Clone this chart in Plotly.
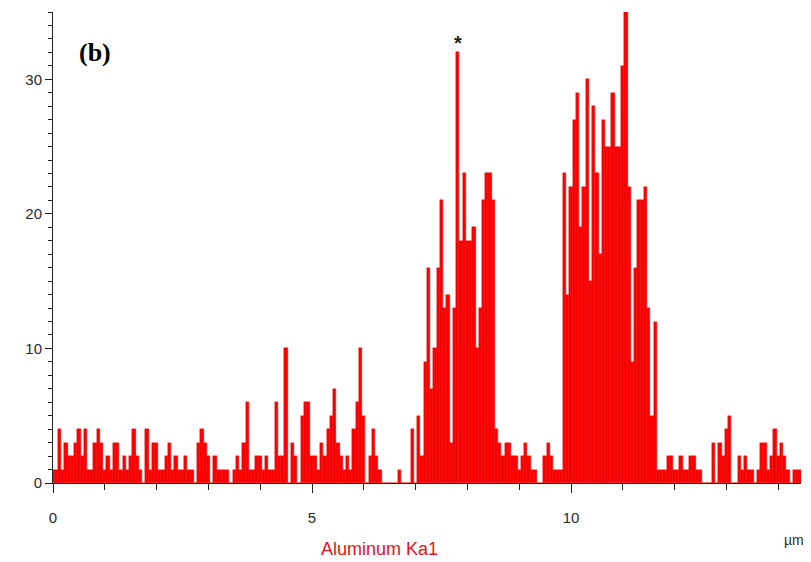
import plotly.graph_objects as go

# ---- data ----
BIN_UM = 0.0625  # width of one scan step, µm

counts_0_19 = [1, 1, 4, 1, 3, 2, 2, 3, 4, 2, 4, 1, 1, 3, 4, 3, 1, 2, 1, 3]
counts_20_42 = [3, 1, 2, 1, 2, 4, 2, 1, 0, 4, 1, 3, 3, 1, 1, 2, 3, 1, 2, 1, 1, 2, 1]
counts_43_63 = [1, 0, 3, 4, 3, 2, 0, 2, 1, 1, 1, 1, 0, 1, 2, 1, 3, 6, 1, 1, 2]
counts_64_84 = [2, 1, 2, 1, 1, 6, 2, 2, 10, 0, 3, 2, 0, 5, 6, 6, 2, 2, 1, 3, 2]
counts_85_101 = [4, 5, 7, 3, 2, 1, 2, 1, 4, 6, 10, 5, 0, 2, 4, 2, 1]
counts_102_113 = [0, 0, 0, 0, 0, 1, 0, 0, 0, 4, 0, 5]
counts_114_126 = [2, 9, 16, 7, 10, 16, 21, 13, 14, 3, 13, 32, 18]
counts_127_147 = [23, 18, 18, 19, 10, 13, 21, 23, 23, 21, 4, 3, 2, 3, 3, 2, 2, 1, 2, 3, 2]
counts_148_157 = [1, 1, 0, 0, 2, 3, 2, 1, 1, 1]
counts_158_167 = [23, 14, 22, 27, 29, 19, 22, 30, 15, 28]
counts_168_187 = [23, 17, 27, 25, 25, 29, 25, 25, 31, 35, 22, 9, 16, 21, 21, 22, 13, 5, 12, 1]
counts_188_231 = [1, 1, 2, 2, 1, 1, 2, 1, 1, 2, 2, 1, 1, 0, 0, 0, 3, 0, 3, 2,
                  4, 5, 0, 0, 2, 1, 2, 1, 1, 0, 1, 3, 3, 1, 2, 4, 2, 3, 2, 1,
                  0, 1, 1, 1]

counts = (counts_0_19 + counts_20_42 + counts_43_63 + counts_64_84 + counts_85_101
          + counts_102_113 + counts_114_126 + counts_127_147 + counts_148_157
          + counts_158_167 + counts_168_187 + counts_188_231)
positions_um = [round(i * BIN_UM, 4) for i in range(len(counts))]

x_major_ticks = [0, 5, 10]
y_major_ticks = [0, 10, 20, 30]
x_range = [0, 14.44]
y_range = [0, 35]

star_index = counts.index(32)  # the marked Al peak

# ---- figure ----
fig = go.Figure()
fig.add_trace(go.Bar(
    x=positions_um, y=counts,
    marker=dict(color="#ff0000", line=dict(color="#d40000", width=0.4)),
    width=BIN_UM,
    showlegend=False,
))

axis_font = dict(family="Liberation Sans, Arial, sans-serif", size=15, color="#2a2a2a")

# the page body has an 8 px margin, so the figure is sized to fit inside the window
fig.update_layout(
    width=803, height=554,
    margin=dict(l=45, r=10, t=4, b=79, autoexpand=False),
    paper_bgcolor="white", plot_bgcolor="white",
    bargap=0,
    xaxis=dict(
        range=x_range, tickmode="array", tickvals=x_major_ticks,
        ticktext=[str(v) for v in x_major_ticks], automargin=False,
        showline=True, linecolor="#222222", linewidth=1,
        ticks="outside", ticklen=9, tickcolor="#222222", tickwidth=1,
        minor=dict(dtick=1, ticks="outside", ticklen=6, tickcolor="#222222"),
        showgrid=False, zeroline=False,
        tickfont=axis_font, ticklabelstandoff=12,
    ),
    yaxis=dict(
        range=y_range, tickmode="array", tickvals=y_major_ticks, automargin=False,
        showline=True, linecolor="#222222", linewidth=1,
        ticks="outside", ticklen=7, tickcolor="#222222", tickwidth=1,
        minor=dict(dtick=1, ticks="outside", ticklen=4, tickcolor="#222222"),
        showgrid=False, zeroline=False,
        tickfont=axis_font,
    ),
    annotations=[
        dict(text="<b>(b)</b>", xref="paper", yref="paper", x=0.056, y=0.915,
             xanchor="center", yanchor="middle", showarrow=False,
             font=dict(family="Liberation Serif, Times New Roman, serif", size=26, color="black")),
        dict(text="<b>*</b>", x=positions_um[star_index], y=counts[star_index],
             xanchor="center", yanchor="bottom", yshift=-4, showarrow=False,
             font=dict(family="Liberation Sans, Arial, sans-serif", size=20, color="#222222")),
        dict(text="µm", xref="paper", yref="paper", x=0.99, y=-0.12,
             xanchor="center", yanchor="middle", showarrow=False,
             font=dict(family="Liberation Sans, Arial, sans-serif", size=14, color="#2a2a2a")),
        dict(text="Aluminum Ka1", xref="paper", yref="paper", x=0.437, y=-0.14,
             xanchor="center", yanchor="middle", showarrow=False,
             font=dict(family="Liberation Sans, Arial, sans-serif", size=18, color="#e0151b")),
    ],
)

fig.write_html("out.html")
